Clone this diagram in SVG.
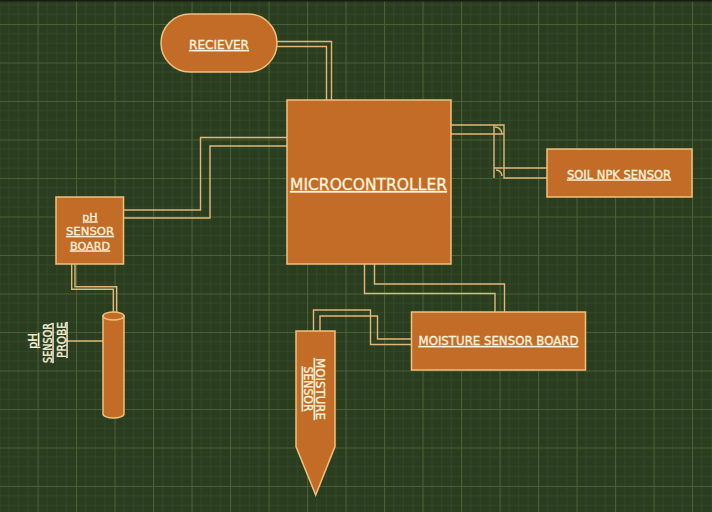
<svg xmlns="http://www.w3.org/2000/svg" width="712" height="512" viewBox="0 0 712 512">
  <style>
    .node { fill: #c36c28; stroke: #efc17e; stroke-width: 1.5; }
    .wire { fill: none; stroke: #e2b878; stroke-width: 1.4; }
    .lbl { font-family: "DejaVu Sans", Verdana, sans-serif; fill: #fff4de; stroke: #fff4de; stroke-width: 0.3; text-decoration: underline; text-anchor: middle; }
  </style>
  <defs>
    <pattern id="grid" patternUnits="userSpaceOnUse" x="-1" y="-14.5" width="38.5" height="38.5">
      <rect width="38.5" height="38.5" fill="#2b3d1f"/>
      <path d="M9.625 0V38.5M19.25 0V38.5M28.875 0V38.5M0 9.625H38.5M0 19.25H38.5M0 28.875H38.5" stroke="#33472a" stroke-width="1"/>
      <path d="M0.5 0V38.5M0 0.5H38.5" stroke="#4a5f36" stroke-width="1.2"/>
    </pattern>
  </defs>
  <rect width="712" height="512" fill="url(#grid)"/>
  <rect width="712" height="1.5" fill="#151c10"/>

  <g id="connectors">
    <!-- receiver to MCU -->
    <path class="wire" d="M277 41.5H331.5V100"/>
    <path class="wire" d="M277 46.5H326.5V100"/>
    <!-- pH board to MCU -->
    <path class="wire" d="M123 210H200.5V137.5H287"/>
    <path class="wire" d="M123 218H210V146H287"/>
    <!-- MCU to soil NPK -->
    <path class="wire" d="M451 125H504V178H547"/>
    <path class="wire" d="M451 134H504M494 125V178M494 168H547"/>
    <path class="wire" d="M495 127A7 7 0 0 1 502 134"/>
    <path class="wire" d="M496 170A6 6 0 0 1 502 176"/>
    <!-- MCU to moisture board -->
    <path class="wire" d="M364.5 264V293.5H495V312"/>
    <path class="wire" d="M374.5 264V284H504.5V312"/>
    <!-- moisture board to moisture sensor -->
    <path class="wire" d="M411 344.5H370.5V310H313.5V331"/>
    <path class="wire" d="M411 339H377.5V316H320V331"/>
    <!-- pH board to probe -->
    <path class="wire" d="M71.7 264V289.3H113.3V312"/>
    <path class="wire" d="M75 264V286.7H116.7V312"/>
    <!-- probe label line -->
    <path class="wire" d="M66.5 341H103"/>
  </g>

  <g id="receiver">
    <rect class="node" x="161" y="14" width="116" height="58" rx="29" ry="29"/>
    <text class="lbl" x="219" y="49" font-size="12" textLength="60" lengthAdjust="spacingAndGlyphs">RECIEVER</text>
  </g>

  <g id="microcontroller">
    <rect class="node" x="287" y="100" width="164" height="164"/>
    <text class="lbl" x="368.5" y="190" font-size="15.5" textLength="157" lengthAdjust="spacingAndGlyphs">MICROCONTROLLER</text>
  </g>

  <g id="soil-npk-sensor">
    <rect class="node" x="547" y="149" width="145" height="48"/>
    <text class="lbl" x="619" y="178.5" font-size="11.5" textLength="104" lengthAdjust="spacingAndGlyphs">SOIL NPK SENSOR</text>
  </g>

  <g id="ph-sensor-board">
    <rect class="node" x="56" y="197" width="67.5" height="67"/>
    <text class="lbl" x="90" y="220.5" font-size="11">pH</text>
    <text class="lbl" x="90" y="235" font-size="11" textLength="48" lengthAdjust="spacingAndGlyphs">SENSOR</text>
    <text class="lbl" x="90" y="249.5" font-size="11" textLength="40" lengthAdjust="spacingAndGlyphs">BOARD</text>
  </g>

  <g id="ph-sensor-probe">
    <path class="node" d="M103 316V414A10.5 4 0 0 0 124 414V316Z"/>
    <ellipse class="node" cx="113.5" cy="316" rx="10.5" ry="4"/>
    <text class="lbl" transform="translate(37 341) rotate(-90)" font-size="11.5">pH</text>
    <text class="lbl" transform="translate(51.5 343) rotate(-90)" font-size="11.5" textLength="40" lengthAdjust="spacingAndGlyphs">SENSOR</text>
    <text class="lbl" transform="translate(65.5 340) rotate(-90)" font-size="11.5" textLength="36" lengthAdjust="spacingAndGlyphs">PROBE</text>
  </g>

  <g id="moisture-sensor-board">
    <rect class="node" x="411.5" y="312" width="174" height="58"/>
    <text class="lbl" x="498.5" y="345" font-size="11.8" textLength="160" lengthAdjust="spacingAndGlyphs">MOISTURE SENSOR BOARD</text>
  </g>

  <g id="moisture-sensor">
    <path class="node" d="M296 331H335V446.5L315.7 495L296 446.5Z"/>
    <text class="lbl" transform="translate(316 389) rotate(90)" font-size="11.8" textLength="62" lengthAdjust="spacingAndGlyphs">MOISTURE</text>
    <text class="lbl" transform="translate(304 389) rotate(90)" font-size="11.8" textLength="45" lengthAdjust="spacingAndGlyphs">SENSOR</text>
  </g>
</svg>
